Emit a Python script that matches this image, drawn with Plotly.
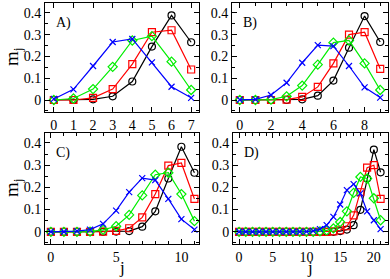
import plotly.graph_objects as go

# Panel A (j = 0..7)
jA = list(range(8))
A_black = [0.0, 0.0, 0.003, 0.017, 0.085, 0.245, 0.388, 0.265]
A_red = [0.0, 0.0, 0.01, 0.05, 0.165, 0.311, 0.32, 0.14]
A_green = [0.0, 0.007, 0.05, 0.152, 0.273, 0.293, 0.176, 0.046]
A_blue = [0.005, 0.049, 0.156, 0.266, 0.28, 0.173, 0.061, 0.01]

# Panel B (j = 0..9)
jB = list(range(10))
B_black = [0.0, 0.0, 0.0, 0.0, 0.003, 0.02, 0.089, 0.24, 0.385, 0.266]
B_red = [0.0, 0.0, 0.0, 0.002, 0.014, 0.06, 0.168, 0.30, 0.311, 0.143]
B_green = [0.0, 0.0, 0.002, 0.017, 0.066, 0.162, 0.263, 0.273, 0.168, 0.046]
B_blue = [0.001, 0.003, 0.023, 0.079, 0.171, 0.252, 0.247, 0.156, 0.058, 0.011]

# Panel C (j = 0..11)
jC = list(range(12))
C_black = [0.0, 0.0, 0.0, 0.0, 0.0, 0.001, 0.003, 0.023, 0.092, 0.24, 0.383, 0.266]
C_red = [0.0, 0.0, 0.0, 0.0, 0.001, 0.004, 0.016, 0.065, 0.17, 0.298, 0.31, 0.148]
C_green = [0.0, 0.0, 0.0, 0.001, 0.009, 0.025, 0.076, 0.164, 0.257, 0.266, 0.17, 0.048]
C_blue = [0.0, 0.0, 0.003, 0.01, 0.036, 0.095, 0.179, 0.242, 0.233, 0.148, 0.057, 0.01]

# Panel D (j = 0..21)
jD = list(range(22))
D_black = [0.0] * 15 + [0.003, 0.01, 0.03, 0.099, 0.24, 0.37, 0.268]
D_red = [0.0] * 14 + [0.002, 0.007, 0.025, 0.074, 0.178, 0.289, 0.30, 0.148]
D_green = [0.0] * 12 + [0.002, 0.006, 0.015, 0.044, 0.092, 0.175, 0.247, 0.24, 0.151, 0.052]
D_blue = [0.0] * 10 + [0.001, 0.004, 0.012, 0.03, 0.067, 0.123, 0.188, 0.215, 0.173, 0.092, 0.052, 0.012]

y_ticks = [0, 0.1, 0.2, 0.3, 0.4]
y_ticklabels = ["0", "0.1", "0.2", "0.3", "0.4"]
panel_labels = ["A)", "B)", "C)", "D)"]

FONT = "Liberation Serif, Times New Roman, serif"
W, H = 390, 279

panels = [
    dict(j=jA, data=[A_black, A_red, A_green, A_blue], xr=[-0.45, 7.4], dtick=1, minor=None,
         xd=[45 / W, 199 / W], yd=[1 - 112 / H, 1 - 3 / H]),
    dict(j=jB, data=[B_black, B_red, B_green, B_blue], xr=[-0.5, 9.5], dtick=2, minor=1,
         xd=[232 / W, 388 / W], yd=[1 - 112 / H, 1 - 3 / H]),
    dict(j=jC, data=[C_black, C_red, C_green, C_blue], xr=[-0.45, 11.35], dtick=5, minor=1,
         xd=[45 / W, 199 / W], yd=[1 - 244 / H, 1 - 133 / H]),
    dict(j=jD, data=[D_black, D_red, D_green, D_blue], xr=[-0.9, 22.1], dtick=5, minor=1,
         xd=[233 / W, 388 / W], yd=[1 - 244 / H, 1 - 133 / H]),
]

styles = [
    dict(color="#000000", symbol="circle-open", size=7),
    dict(color="#FF0000", symbol="square-open", size=7),
    dict(color="#00EE00", symbol="diamond-open", size=7),
    dict(color="#0000FF", symbol="x-thin-open", size=6),
]

fig = go.Figure()
layout = dict(
    width=W, height=H, margin=dict(l=0, r=0, t=0, b=0),
    paper_bgcolor="white", plot_bgcolor="white", showlegend=False,
    font=dict(family=FONT, size=13, color="black"),
)
annotations = []

for i, p in enumerate(panels):
    n = i + 1
    xa = "x" if n == 1 else f"x{n}"
    ya = "y" if n == 1 else f"y{n}"
    for vals, st in zip(p["data"], styles):
        fig.add_trace(go.Scatter(
            x=p["j"], y=vals, mode="lines+markers", xaxis=xa, yaxis=ya,
            line=dict(color=st["color"], width=1.2),
            marker=dict(symbol=st["symbol"], size=st["size"], color=st["color"],
                        line=dict(color=st["color"], width=1.2)),
            cliponaxis=False,
        ))
    xkey = "xaxis" if n == 1 else f"xaxis{n}"
    ykey = "yaxis" if n == 1 else f"yaxis{n}"
    xaxis = dict(
        domain=p["xd"], anchor=ya, range=p["xr"], tick0=0, dtick=p["dtick"],
        showgrid=False, zeroline=False, showline=True, linecolor="black", linewidth=1,
        mirror="allticks", ticks="inside", ticklen=5, tickcolor="black",
        tickfont=dict(family=FONT, size=14),
    )
    if p["minor"]:
        xaxis["minor"] = dict(dtick=p["minor"], tick0=0, ticks="inside", ticklen=3,
                              tickcolor="black", showgrid=False)
    yaxis = dict(
        domain=p["yd"], anchor=xa, range=[-0.055, 0.445],
        tickvals=y_ticks, ticktext=y_ticklabels,
        showgrid=False, zeroline=False, showline=True, linecolor="black", linewidth=1,
        mirror="allticks", ticks="inside", ticklen=5, tickcolor="black",
        tickfont=dict(family=FONT, size=14),
        minor=dict(dtick=0.05, tick0=0, ticks="inside", ticklen=3, tickcolor="black", showgrid=False),
    )
    layout[xkey] = xaxis
    layout[ykey] = yaxis
    annotations.append(dict(
        text=panel_labels[i], xref="paper", yref="paper",
        x=p["xd"][0] + 9 / W, y=p["yd"][1] - 10 / H, xanchor="left", yanchor="top",
        showarrow=False, font=dict(family=FONT, size=14),
    ))

# axis titles
for yc in [1 - 57 / H, 1 - 188 / H]:
    annotations.append(dict(
        text="m<sub>j</sub>", xref="paper", yref="paper", x=13 / W, y=yc,
        xanchor="center", yanchor="middle", textangle=-90, showarrow=False,
        font=dict(family=FONT, size=19),
    ))
for xc in [122 / W, 310 / W]:
    annotations.append(dict(
        text="j", xref="paper", yref="paper", x=xc, y=0,
        xanchor="center", yanchor="bottom", showarrow=False,
        font=dict(family=FONT, size=17),
    ))

layout["annotations"] = annotations
fig.update_layout(**layout)
fig.write_html(
    "out.html",
    config={"displayModeBar": False},
    post_script="document.body.style.margin='0';document.body.style.padding='0';"
                "document.body.style.overflow='hidden';",
)
